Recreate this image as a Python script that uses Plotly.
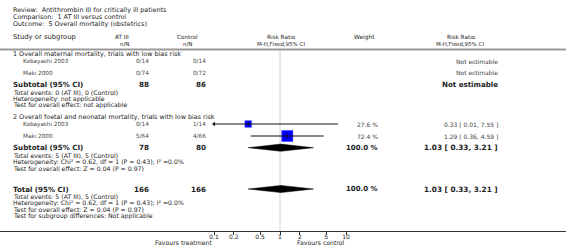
import math
import plotly.graph_objects as go

# ---------------- data ----------------
title_lines = [
    "Review:  Antithrombin III for critically ill patients",
    "Comparison:  1 AT III versus control",
    "Outcome:  5 Overall mortality (obstetrics)",
]
header_study = "Study or subgroup"
header_trt = ["AT III", "n/N"]
header_ctl = ["Control", "n/N"]
header_rr = ["Risk Ratio", "M-H,Fixed,95% CI"]
header_weight = "Weight"

sub1_title = "1 Overall maternal mortality, trials with low bias risk"
sub1_studies = ["Kobayashi 2003", "Maki 2000"]
sub1_trt = ["0/14", "0/74"]
sub1_ctl = ["0/14", "0/72"]
sub1_totals = ["88", "86"]
sub1_notes = ["Total events: 0 (AT III), 0 (Control)",
              "Heterogeneity: not applicable",
              "Test for overall effect: not applicable"]

sub2_title = "2 Overall foetal and neonatal mortality, trials with low bias risk"
sub2_studies = ["Kobayashi 2003", "Maki 2000"]
sub2_trt = ["0/14", "5/64"]
sub2_ctl = ["1/14", "4/66"]
sub2_weight = [27.6, 72.4]
sub2_rr = [0.33, 1.29]
sub2_lo = [0.01, 0.36]
sub2_hi = [7.55, 4.59]
sub2_totals = ["78", "80"]
sub2_pooled = [1.03, 0.33, 3.21]
sub2_notes = ["Total events: 5 (AT III), 5 (Control)",
              "Heterogeneity: Chi\u00b2 = 0.62, df = 1 (P = 0.43); I\u00b2 =0.0%",
              "Test for overall effect: Z = 0.04 (P = 0.97)"]

total_counts = ["166", "166"]
total_pooled = [1.03, 0.33, 3.21]
total_notes = ["Total events: 5 (AT III), 5 (Control)",
               "Heterogeneity: Chi\u00b2 = 0.62, df = 1 (P = 0.43); I\u00b2 =0.0%",
               "Test for overall effect: Z = 0.04 (P = 0.97)",
               "Test for subgroup differences: Not applicable"]

tick_vals = [0.1, 0.2, 0.5, 1, 2, 5, 10]
tick_text = ["0.1", "0.2", "0.5", "1", "2", "5", "10"]
favours = ["Favours treatment", "Favours control"]

# ---------------- layout constants ----------------
W, H = 566, 248
PLOT_H = 231
FONT = "DejaVu Sans"
DARK = "#222222"
GRAY = "#444444"
# log axis: 0.1 at px 214, 10 at px 346
PX_PER_DEC = 66.0
X0 = -1 - 214 / PX_PER_DEC
X1 = 1 + (W - 346) / PX_PER_DEC
AX_MIN = 0.1
AX_MAX = 10

fig = go.Figure()
ann = []


def txt(px, py, s, size=6, bold=False, anchor="left", color=DARK):
    ann.append(dict(
        x=px / W, xref="paper", y=(PLOT_H - py) / PLOT_H, yref="paper",
        text=("<b>%s</b>" % s) if bold else s,
        showarrow=False, xanchor=anchor, yanchor="middle",
        font=dict(family=FONT, size=size, color=color), borderpad=0))


NOTE = 6.2
# titles
for i, t in enumerate(title_lines):
    txt(12, 10 + 7 * i, t, size=6.4)

# headers
txt(12, 37, header_study, size=6.8)
txt(122, 37, header_trt[0], size=5.7, anchor="center")
txt(124, 43.5, header_trt[1], size=5.5, anchor="center")
txt(187, 37, header_ctl[0], size=5.7, anchor="center")
txt(188, 43.5, header_ctl[1], size=5.5, anchor="center")
txt(281, 37, header_rr[0], size=5.7, anchor="center")
txt(281, 43.5, header_rr[1], size=5.5, anchor="center")
txt(364, 37, header_weight, size=5.9, anchor="center")
txt(461, 37, header_rr[0], size=5.7, anchor="center")
txt(460, 43.5, header_rr[1], size=5.5, anchor="center")


def section(y0, title, studies, trt, ctl, totals, notes):
    txt(12, y0, title, size=6.4)
    ys = [y0 + 7, y0 + 19]
    for i, s in enumerate(studies):
        txt(22, ys[i], s, size=5.7, color=GRAY)
        txt(150, ys[i], trt[i], size=5.7, anchor="right", color=GRAY)
        txt(207, ys[i], ctl[i], size=5.7, anchor="right", color=GRAY)
    ysub = y0 + 30.7
    txt(12, ysub, "Subtotal (95% CI)", size=7.1, bold=True)
    txt(150, ysub, totals[0], size=7.2, bold=True, anchor="right")
    txt(207, ysub, totals[1], size=7.2, bold=True, anchor="right")
    for j, n in enumerate(notes):
        txt(12, ysub + 7.4 + 6.6 * j, n, size=NOTE)
    return ys, ysub


# section 1
ys1, ysub1 = section(54, sub1_title, sub1_studies, sub1_trt, sub1_ctl, sub1_totals, sub1_notes)
for y in ys1:
    txt(499, y, "Not estimable", size=6, anchor="right", color=GRAY)
txt(499, ysub1, "Not estimable", size=7.1, bold=True, anchor="right")

# section 2
ys2, ysub2 = section(117, sub2_title, sub2_studies, sub2_trt, sub2_ctl, sub2_totals, sub2_notes)
for i, y in enumerate(ys2):
    txt(379, y, "%.1f %%" % sub2_weight[i], size=6, anchor="right", color=GRAY)
    txt(499, y, "%.2f [ %.2f, %.2f ]" % (sub2_rr[i], sub2_lo[i], sub2_hi[i]),
        size=6, anchor="right", color=GRAY)
txt(379, ysub2, "100.0 %", size=7, bold=True, anchor="right")
txt(499, ysub2, "%.2f [ %.2f, %.2f ]" % tuple(sub2_pooled), size=7.3, bold=True, anchor="right")

# overall total
yt = 189
txt(12, yt, "Total (95% CI)", size=7.1, bold=True)
txt(150, yt, total_counts[0], size=7.2, bold=True, anchor="right")
txt(207, yt, total_counts[1], size=7.2, bold=True, anchor="right")
txt(379, yt, "100.0 %", size=7, bold=True, anchor="right")
txt(499, yt, "%.2f [ %.2f, %.2f ]" % tuple(total_pooled), size=7.3, bold=True, anchor="right")
for j, n in enumerate(total_notes):
    txt(12, yt + 7.4 + 6.6 * j, n, size=NOTE)

# favours labels
txt(183, 242.5, favours[0], size=6.2, anchor="center")
txt(321, 242.5, favours[1], size=6.2, anchor="center")

# ---------------- forest marks ----------------
for i, y in enumerate(ys2):
    lo = max(sub2_lo[i], AX_MIN)
    hi = min(sub2_hi[i], AX_MAX)
    fig.add_trace(go.Scatter(x=[sub2_rr[i]], y=[y], mode="markers",
                             marker=dict(symbol="square", size=4 + 0.1 * sub2_weight[i],
                                         color="#0000ff", line=dict(color="#5a5aff", width=0.5)),
                             hoverinfo="skip", showlegend=False))
    fig.add_trace(go.Scatter(x=[lo, hi], y=[y, y], mode="lines",
                             line=dict(color="#111111", width=1), hoverinfo="skip", showlegend=False))
    fig.add_trace(go.Scatter(x=[sub2_rr[i]], y=[y], mode="markers",
                             marker=dict(symbol="line-ns", size=3, line=dict(color="#111111", width=1)),
                             hoverinfo="skip", showlegend=False))
    if sub2_lo[i] < AX_MIN:
        fig.add_trace(go.Scatter(x=[AX_MIN], y=[y], mode="markers",
                                 marker=dict(symbol="triangle-left", size=4, color="#111111"),
                                 hoverinfo="skip", showlegend=False))


def diamond(est, lo, hi, y, h=3.6):
    fig.add_trace(go.Scatter(x=[lo, est, hi, est, lo], y=[y, y - h, y, y + h, y],
                             mode="lines", fill="toself", fillcolor="#000000",
                             line=dict(color="#000000", width=0.5),
                             hoverinfo="skip", showlegend=False))


diamond(sub2_pooled[0], sub2_pooled[1], sub2_pooled[2], ysub2)
diamond(total_pooled[0], total_pooled[1], total_pooled[2], yt)

shapes = [
    dict(type="line", xref="paper", x0=0, x1=1, yref="y", y0=49.5, y1=49.5,
         line=dict(color="#999999", width=2)),
    dict(type="line", xref="x", x0=1, x1=1, yref="y", y0=51, y1=231,
         line=dict(color="#d0d0d0", width=1), layer="below"),
]

fig.update_layout(
    width=W, height=H, margin=dict(l=0, r=0, t=0, b=H - PLOT_H),
    paper_bgcolor="white", plot_bgcolor="white",
    annotations=ann, shapes=shapes, showlegend=False,
    xaxis=dict(type="log", range=[X0, X1], showgrid=False, zeroline=False,
               showline=True, linecolor="#333333", linewidth=1,
               ticks="outside", ticklen=3, tickcolor="#333333",
               tickvals=tick_vals, ticktext=tick_text, ticklabelstandoff=-3,
               tickfont=dict(family=FONT, size=6, color=DARK), fixedrange=True),
    yaxis=dict(range=[PLOT_H, 0], visible=False, fixedrange=True),
)

fig.write_html("out.html", config={"displayModeBar": False},
               post_script="document.body.style.margin='0';document.body.style.overflow='hidden';")
